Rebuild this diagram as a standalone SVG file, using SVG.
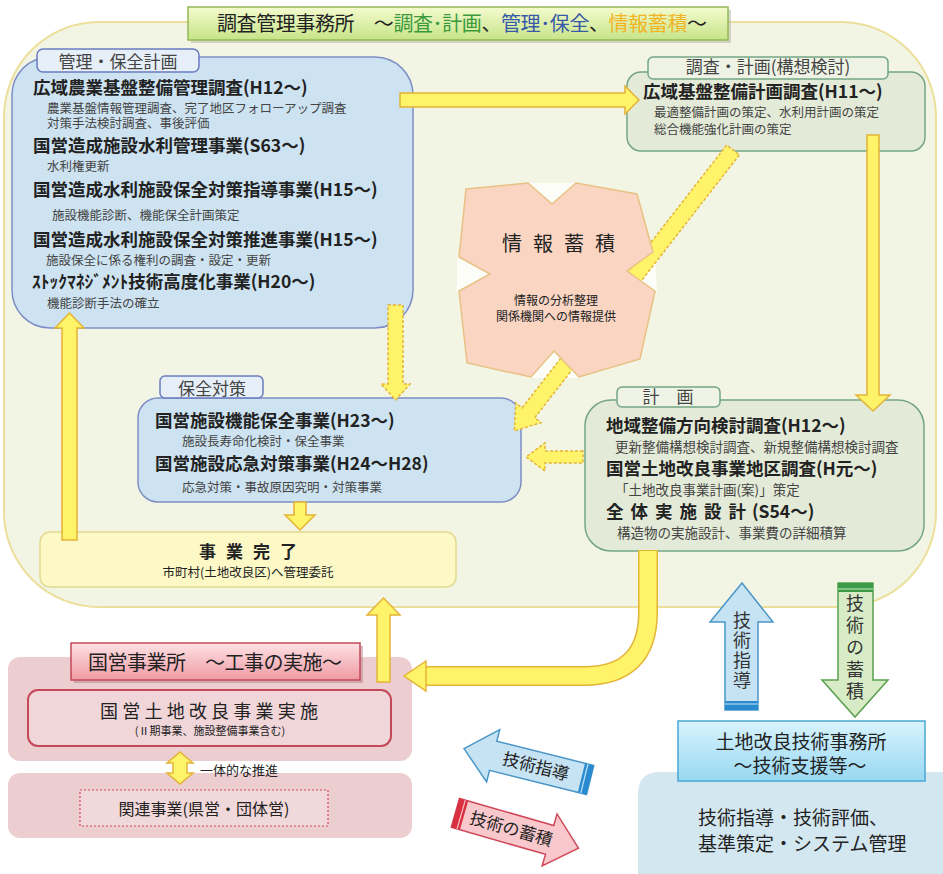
<svg xmlns="http://www.w3.org/2000/svg" width="943" height="874" viewBox="0 0 943 874">
<defs>
<linearGradient id="gTitle" x1="0" y1="0" x2="0" y2="1"><stop offset="0" stop-color="#f4fbcf"/><stop offset="1" stop-color="#c6e488"/></linearGradient>
<linearGradient id="gPink" x1="0" y1="0" x2="0" y2="1"><stop offset="0" stop-color="#fde2e4"/><stop offset="1" stop-color="#f09aa4"/></linearGradient>
<linearGradient id="gCyan" x1="0" y1="0" x2="0" y2="1"><stop offset="0" stop-color="#d8f3fd"/><stop offset="1" stop-color="#98d8f2"/></linearGradient>
</defs>
<style>
text{font-family:"Noto Sans CJK JP","Noto Sans CJK SC",sans-serif;fill:#222}
.h{font-size:17.5px;font-weight:bold}
.s{font-size:12.5px;fill:#444}
.s14{font-size:13.5px;fill:#444}
.lab{font-size:17px;fill:#444;text-anchor:middle}
.blue{fill:#cde3f1;stroke:#7f8fc6;stroke-width:1.5}
.bluetab{fill:#e6eff8;stroke:#6a7cc0;stroke-width:1.5}
.green{fill:#e3ead7;stroke:#74a684;stroke-width:1.5}
.greentab{fill:#eef3e6;stroke:#74a684;stroke-width:1.5}
.ya{fill:#fff36a;stroke:#e3b436;stroke-width:1.5}
.yd{fill:#fff36a;stroke:#e3b436;stroke-width:1.5;stroke-dasharray:3 2}
.c{text-anchor:middle}
.vt{writing-mode:vertical-rl;font-size:18px;fill:#333}
.win{fill:#fdfdf8}
</style>
<rect width="943" height="874" fill="#ffffff"/>

<g id="region-chosa">
<rect x="4" y="22" width="932" height="585" rx="95" fill="#f3f5e4" stroke="#ecdf9c" stroke-width="2"/>
</g>

<g id="title-chosa">
<rect x="191" y="10" width="540" height="33" fill="#b0b0a0" opacity="0.5"/>
<rect x="188" y="7" width="540" height="33" fill="url(#gTitle)" stroke="#93b855" stroke-width="1.5"/>
<text x="217" y="31" font-size="20" textLength="490" fill="#333"><tspan>調査管理事務所　～</tspan><tspan fill="#3c9a3c">調査･計画</tspan><tspan>、</tspan><tspan fill="#3858a8">管理･保全</tspan><tspan>、</tspan><tspan fill="#f2b422">情報蓄積</tspan><tspan>～</tspan></text>
</g>

<g id="node-kanri">
<rect x="12" y="57" width="401" height="271" rx="38" class="blue"/>
<rect x="37" y="49" width="162" height="23" rx="6" class="bluetab"/>
<text x="118" y="68" class="lab">管理・保全計画</text>
<text x="33" y="94" class="h">広域農業基盤整備管理調査(H12～)</text>
<text x="47" y="113" class="s">農業基盤情報管理調査、完了地区フォローアップ調査</text>
<text x="47" y="128" class="s">対策手法検討調査、事後評価</text>
<text x="33" y="152" class="h">国営造成施設水利管理事業(S63～)</text>
<text x="47" y="171" class="s">水利権更新</text>
<text x="33" y="196" class="h">国営造成水利施設保全対策指導事業(H15～)</text>
<text x="52" y="220" class="s">施設機能診断、機能保全計画策定</text>
<text x="33" y="246" class="h">国営造成水利施設保全対策推進事業(H15～)</text>
<text x="46" y="265" class="s">施設保全に係る権利の調査・設定・更新</text>
<text x="32" y="288" class="h">ｽﾄｯｸﾏﾈｼﾞﾒﾝﾄ技術高度化事業(H20～)</text>
<text x="47" y="308" class="s">機能診断手法の確立</text>
</g>

<g id="node-chosa-keikaku">
<rect x="627" y="72" width="298" height="79" rx="14" class="green"/>
<rect x="648" y="57" width="240" height="22" rx="5" class="greentab"/>
<text x="768" y="73" class="lab" font-size="16">調査・計画(構想検討)</text>
<text x="643" y="98" class="h">広域基盤整備計画調査(H11～)</text>
<text x="654" y="117" class="s">最適整備計画の策定、水利用計画の策定</text>
<text x="654" y="134" class="s">総合機能強化計画の策定</text>
</g>

<g id="node-hozen">
<rect x="138" y="398" width="383" height="104" rx="20" class="blue"/>
<rect x="160" y="376" width="103" height="22" rx="5" class="bluetab"/>
<text x="212" y="395" class="lab">保全対策</text>
<text x="155" y="427" class="h">国営施設機能保全事業(H23～)</text>
<text x="182" y="446" class="s">施設長寿命化検討・保全事業</text>
<text x="155" y="470" class="h">国営施設応急対策事業(H24～H28)</text>
<text x="182" y="492" class="s">応急対策・事故原因究明・対策事業</text>
</g>

<g id="node-keikaku">
<rect x="585" y="400" width="339" height="151" rx="26" class="green"/>
<rect x="617" y="387" width="103" height="20" rx="5" class="greentab"/>
<text x="668" y="403" class="lab">計　画</text>
<text x="606" y="432" class="h">地域整備方向検討調査(H12～)</text>
<text x="615" y="452" class="s14">更新整備構想検討調査、新規整備構想検討調査</text>
<text x="606" y="475" class="h">国営土地改良事業地区調査(H元～)</text>
<text x="615" y="495" class="s14">「土地改良事業計画(案)」策定</text>
<text x="606" y="518" class="h" textLength="140" lengthAdjust="spacing">全体実施設計</text>
<text x="752" y="518" class="h">(S54～)</text>
<text x="617" y="538" class="s14">構造物の実施設計、事業費の詳細積算</text>
</g>

<g id="node-kanryo">
<rect x="40" y="532" width="416" height="55" rx="10" fill="#fdf9c6" stroke="#e4d98e" stroke-width="1.5"/>
<text x="248" y="558" font-size="17" font-weight="bold" class="c" textLength="98" lengthAdjust="spacing">事業完了</text>
<text x="248" y="577" font-size="12.5" fill="#444" class="c">市町村(土地改良区)へ管理委託</text>
</g>

<g id="node-kokuei">
<rect x="8" y="657" width="404" height="104" rx="12" fill="#eccdd0"/>
<rect x="8" y="773" width="404" height="65" rx="12" fill="#eccdd0"/>
<rect x="74" y="646" width="289" height="37" fill="#b08088" opacity="0.5"/>
<rect x="71" y="643" width="289" height="37" fill="url(#gPink)" stroke="#c44858" stroke-width="1.5"/>
<text x="88" y="670" font-size="20" fill="#444" textLength="254">国営事業所　～工事の実施～</text>
<rect x="28" y="690" width="363" height="56" rx="10" fill="#f1d6d9" stroke="#c44858" stroke-width="2"/>
<text x="100" y="718" font-size="18" fill="#444" textLength="218" lengthAdjust="spacing">国営土地改良事業実施</text>
<text x="210" y="735" font-size="11" fill="#444" class="c">(Ⅱ期事業、施設整備事業含む)</text>
<text x="200" y="775" font-size="13" fill="#444">一体的な推進</text>
<rect x="80" y="790" width="248" height="36" fill="#f1d8da" stroke="#d04858" stroke-width="1.2" stroke-dasharray="2 2"/>
<text x="204" y="815" font-size="16" fill="#444" class="c">関連事業(県営・団体営)</text>
</g>

<g id="node-gijutsu">
<path d="M943 772 L660 772 Q638 772 638 794 L638 874 L943 874 Z" fill="#d3e7f1"/>
<rect x="678" y="721" width="247" height="60" fill="url(#gCyan)" stroke="#4aa6d4" stroke-width="1.5"/>
<text x="801" y="749" font-size="19" fill="#333" class="c">土地改良技術事務所</text>
<text x="800" y="773" font-size="19" fill="#333" class="c">～技術支援等～</text>
<text x="698" y="825" font-size="19" fill="#333">技術指導・技術評価、</text>
<text x="698" y="851" font-size="19" fill="#333">基準策定・システム管理</text>
</g>

<g id="connectors">
<polygon class="ya" points="400,93 625,93 625,86 639,100 625,114 625,107 400,107"/>
<polygon class="ya" points="867,135 879,135 879,395 890,395 873,411 856,395 867,395"/>
<polygon class="ya" points="62,540 77,540 77,328 84,328 69.5,313 55,328 62,328"/>
<polygon class="yd" points="388,305 403,305 403,384 410,384 395.5,400 381,384 388,384"/>
<polygon class="yd" points="583,451 545,451 545,443 526,457 545,471 545,463 583,463"/>
<polygon class="win" points="526,183 552,206 578,183"/>
<polygon class="win" points="655,250 625,271 657,293"/>
<polygon class="win" points="581,378 554,349 529,378"/>
<polygon class="win" points="457,255 492,274 457,293"/>
<polygon class="yd" transform="translate(733,150) rotate(127.9)" points="0,-8 333,-8 333,-16 356,0 333,16 333,8 0,8"/>
<polygon class="ya" points="294,502 306,502 306,515 315,515 300,530 285,515 294,515"/>
<polygon class="ya" points="377,682 390,682 390,615 400,615 383.5,598 367,615 377,615"/>
<path d="M648 550 L648 612 Q648 676 584 676 L424 676" fill="none" stroke="#e3b436" stroke-width="20"/>
<path d="M648 551 L648 612 Q648 676 584 676 L423 676" fill="none" stroke="#fff36a" stroke-width="17"/>
<polygon class="ya" points="426,661 404,676 426,691"/>
<polygon class="ya" points="180,752 193,763 187,763 187,773 193,773 180,784 167,773 173,773 173,763 167,763"/>
<g id="arrow-shido-up">
<polygon points="742,583 773,622 758,622 758,710 725,710 725,622 710,622" fill="#c6e3f3" stroke="#4a96c8" stroke-width="1.5"/>
<rect x="725" y="701" width="33" height="9" fill="#2a8ad0"/>
<line x1="725" y1="704" x2="758" y2="704" stroke="#bfe4f8" stroke-width="1.2"/>
<text x="742" y="611" class="vt" letter-spacing="2">技術指導</text>
</g>
<g id="arrow-chikuseki-down">
<polygon points="838,583 873,583 873,680 888,680 855,717 822,680 838,680" fill="#d7ebc6" stroke="#5aa050" stroke-width="1.5"/>
<rect x="838" y="583" width="35" height="9" fill="#3a9a48"/>
<line x1="838" y1="589" x2="873" y2="589" stroke="#c8ecc0" stroke-width="1.2"/>
<text x="855" y="594" class="vt" letter-spacing="4">技術の蓄積</text>
</g>
<g id="arrow-shido-diag" transform="translate(530,765) rotate(14)">
<polygon points="-68,0 -38,-27 -38,-15 62,-15 62,15 -38,15 -38,27" fill="#c6e3f3" stroke="#4a96c8" stroke-width="1.5"/>
<rect x="53" y="-15" width="9" height="30" fill="#2a8ad0"/>
<line x1="56" y1="-15" x2="56" y2="15" stroke="#bfe4f8" stroke-width="1.2"/>
<text x="6" y="6" font-size="17" fill="#333" class="c">技術指導</text>
</g>
<g id="arrow-chikuseki-diag" transform="translate(515,830) rotate(16)">
<polygon points="66,0 36,-27 36,-15 -62,-15 -62,15 36,15 36,27" fill="#f8c8cc" stroke="#d04858" stroke-width="1.5"/>
<rect x="-62" y="-15" width="9" height="30" fill="#d83040"/>
<line x1="-56" y1="-15" x2="-56" y2="15" stroke="#f8c0c4" stroke-width="1.2"/>
<text x="-4" y="6" font-size="17" fill="#333" class="c">技術の蓄積</text>
</g>
</g>

<g id="node-joho">
<polygon points="466,189 528,183 552,204 576,183 637,194 653,252 627,271 655,291 640,359 579,377 554,351 531,377 467,363 459,291 490,274 459,257" fill="#f9d5c2" stroke="#e9c184" stroke-width="1.5"/>
<text x="502" y="251" font-size="20" fill="#555" textLength="113" lengthAdjust="spacing">情報蓄積</text>
<text x="556" y="305" font-size="12" fill="#444" class="c">情報の分析整理</text>
<text x="556" y="321" font-size="12" fill="#444" class="c">関係機関への情報提供</text>
</g>
</svg>
